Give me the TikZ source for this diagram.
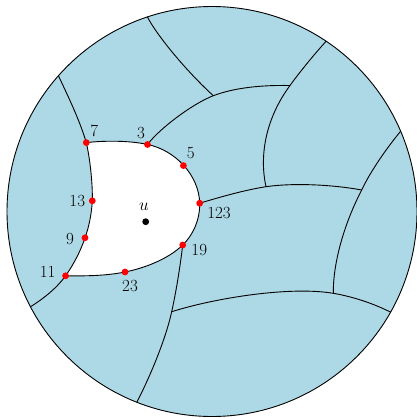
\documentclass[tikz,border=0pt]{standalone}
\usepackage{fontspec}
\definecolor{lightblue}{RGB}{173,216,230}
\begin{document}
\begin{tikzpicture}[x=1pt,y=-1pt,
  reddot/.style={circle,fill=red,inner sep=0pt,minimum size=6.8pt},
  blackdot/.style={circle,fill=black,inner sep=0pt,minimum size=6.8pt},
  lbl/.style={inner sep=0pt,font=\fontsize{17}{20}\selectfont},
  curve/.style={black,line width=0.9pt}]
\useasboundingbox (0,0) rectangle (417,418);
\coordinate (O) at (212,211.5);
% points
\coordinate (p7) at (86.3,142.6);
\coordinate (p3) at (147.5,144.5);
\coordinate (p5) at (183.4,165.6);
\coordinate (p123) at (199.7,203.2);
\coordinate (p19) at (182.7,245);
\coordinate (p23) at (125,272);
\coordinate (p11) at (65.6,275.8);
\coordinate (p9) at (85,237.8);
\coordinate (p13) at (92.3,200.8);
\coordinate (J1) at (213.3,95.7);
\coordinate (J2) at (290,85.5);
\coordinate (J3) at (266,186.7);
\coordinate (J4) at (361.7,190);
\coordinate (J5) at (333.3,293.3);
\coordinate (J6) at (171.7,311.7);
\coordinate (e1) at (55.5,69.5);
\coordinate (e2) at (26,309.5);
\coordinate (e3) at (145.5,12.5);
\coordinate (e4) at (330,37);
\coordinate (e5) at (405,126);
\coordinate (e6) at (133,409.5);
\coordinate (e7) at (397,315.5);
% disc
\fill[lightblue] (O) circle (205pt);
% white region
\fill[white] (p7) .. controls (105,140.5) and (130,140.5) .. (p3)
  .. controls (175,150) and (199,175) .. (p123)
  .. controls (200,220) and (193,235) .. (p19)
  .. controls (168.2,259) and (145,268) .. (p23)
  .. controls (105,276) and (85,276) .. (p11)
  .. controls (74,264) and (81,250) .. (p9)
  .. controls (89,227) and (91.7,213) .. (p13)
  .. controls (92.8,182) and (89.5,156) .. (p7) -- cycle;
\begin{scope}
\clip (O) circle (205pt);
% left curve
\draw[curve] (e1) .. controls (66,92) and (79,118) .. (p7)
  .. controls (89.5,156) and (92.8,182) .. (p13)
  .. controls (91.7,213) and (89,227) .. (p9)
  .. controls (81,250) and (74,264) .. (p11)
  .. controls (56,289) and (42,300) .. (e2);
% boundary of the white region
\draw[curve] (p7) .. controls (105,140.5) and (130,140.5) .. (p3)
  .. controls (175,150) and (199,175) .. (p123)
  .. controls (200,220) and (193,235) .. (p19)
  .. controls (168.2,259) and (145,268) .. (p23)
  .. controls (105,276) and (85,276) .. (p11);
% from 3 up-right
\draw[curve] (p3) .. controls (159.5,128.5) and (192.8,103.6) .. (J1)
  .. controls (235,87.5) and (262,85) .. (J2);
% top
\draw[curve] (e3) .. controls (151,28) and (183,68) .. (J1);
% top right
\draw[curve] (e4) .. controls (316,52) and (299.3,72.5) .. (J2)
  .. controls (266,118) and (259,155) .. (J3);
% from 123 right
\draw[curve] (p123) .. controls (222,196.5) and (245,190) .. (J3)
  .. controls (295,182.5) and (335,185) .. (J4);
% right
\draw[curve] (e5) .. controls (392,141) and (372,168) .. (J4)
  .. controls (344,224) and (333,263) .. (J5);
% from 19 down
\draw[curve] (p19) .. controls (180,268) and (176,292) .. (J6)
  .. controls (166,338) and (150,378) .. (e6);
% bottom
\draw[curve] (J6) .. controls (215,298) and (290,286) .. (J5)
  .. controls (355,297) and (378,305) .. (e7);
\end{scope}
\draw[curve] (O) circle (205pt);
% dots
\node[reddot] (d7) at (p7) {};
\node[reddot] (d3) at (p3) {};
\node[reddot] (d5) at (p5) {};
\node[reddot] (d123) at (p123) {};
\node[reddot] (d19) at (p19) {};
\node[reddot] (d23) at (p23) {};
\node[reddot] (d11) at (p11) {};
\node[reddot] (d9) at (p9) {};
\node[reddot] (d13) at (p13) {};
\node[blackdot] (du) at (145.7,221.7) {};
% labels
\node[lbl] (l7) at (94.3,130.7) {7};
\node[lbl] (l3) at (141,132.7) {3};
\node[lbl] (l5) at (190.7,152.7) {5};
\node[lbl] (l123) at (219,213.3) {123};
\node[lbl] (l19) at (199.3,250) {19};
\node[lbl] (l23) at (130,285.7) {23};
\node[lbl] (l11) at (47.7,271.7) {11};
\node[lbl] (l9) at (70,239.3) {9};
\node[lbl] (l13) at (77.3,201) {13};
\node[lbl] (lu) at (144,206.7) {$u$};
\end{tikzpicture}
\end{document}
